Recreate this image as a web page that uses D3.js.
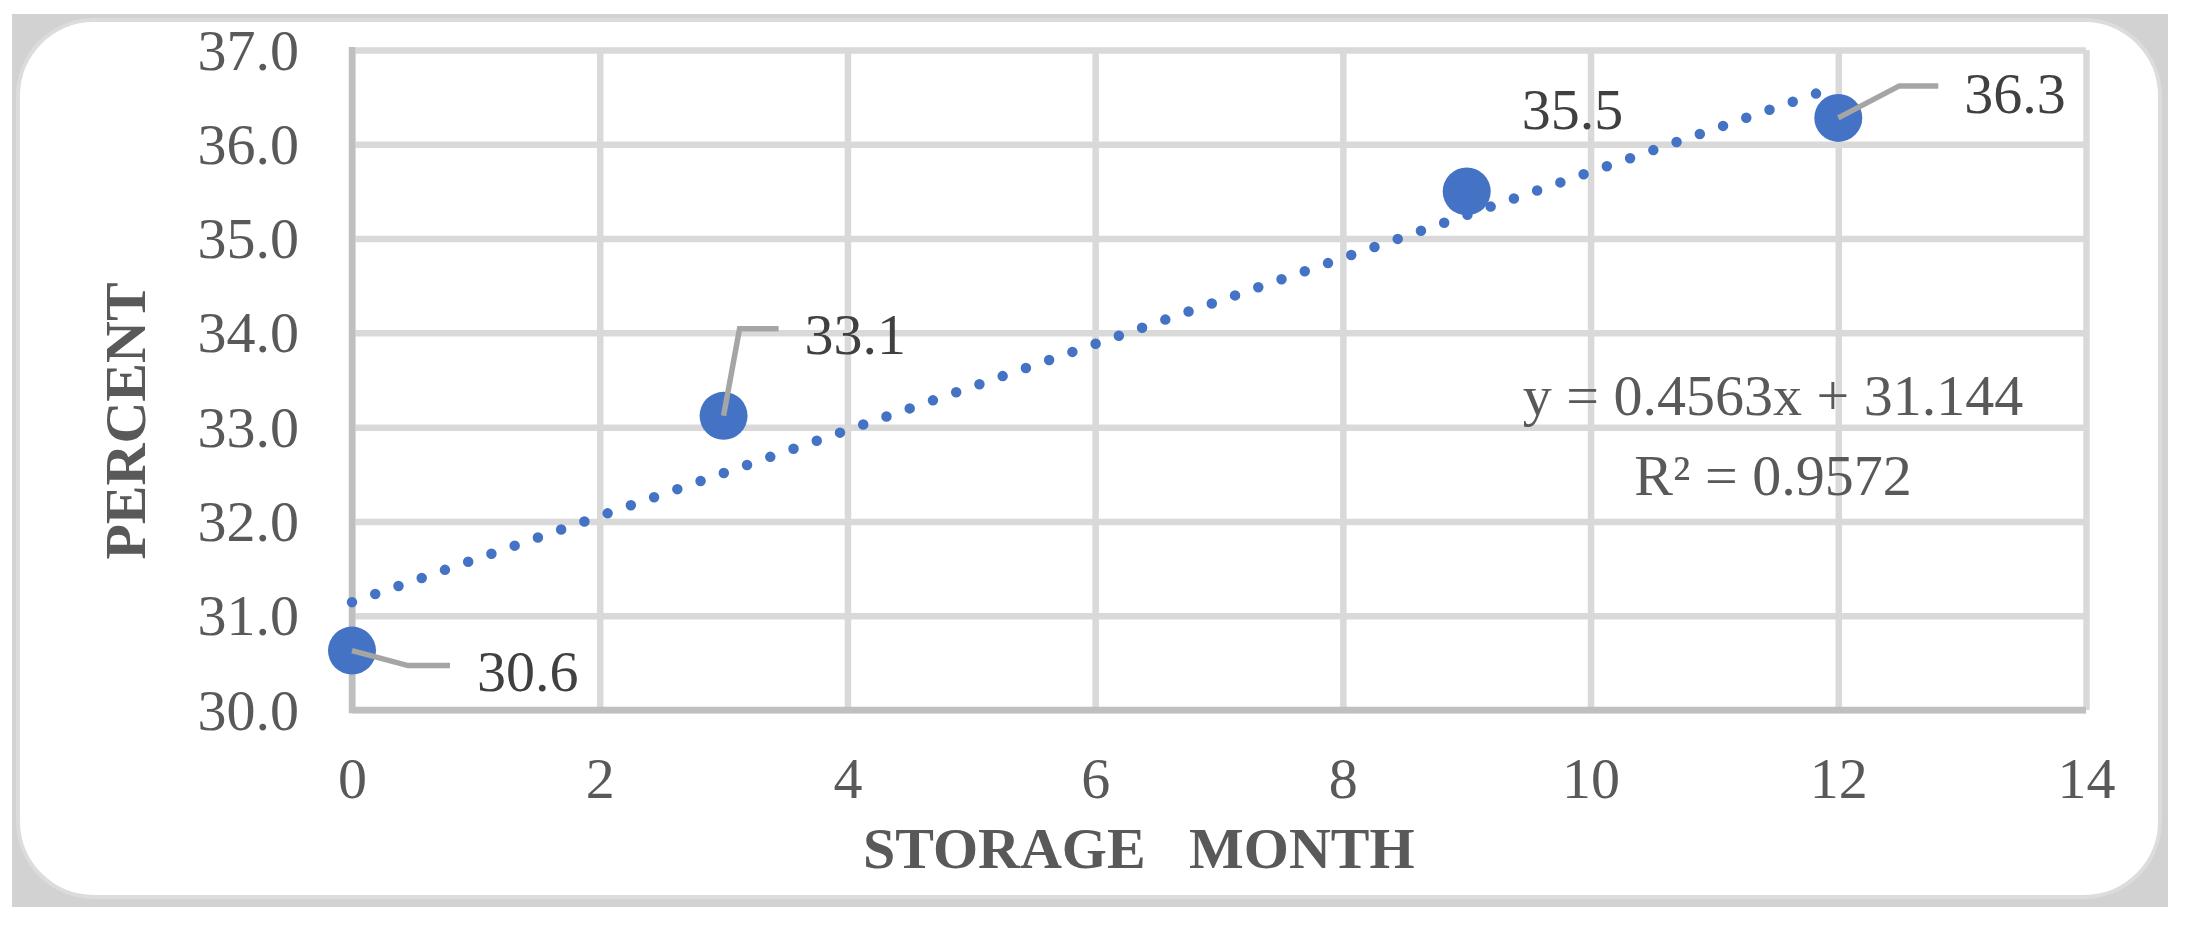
<!DOCTYPE html>
<html>
<head>
<meta charset="utf-8">
<script src="https://cdn.jsdelivr.net/npm/d3@7"></script>
<style>
  body { margin: 0; background: #fff; }
  text { font-family: "Liberation Serif", "Times New Roman", serif; }
</style>
</head>
<body>
<div id="chart"></div>
<script>
// data
var months   = [0, 3, 9, 12];
var percents = [30.63, 33.12, 35.50, 36.28];
var xTicks = [0, 2, 4, 6, 8, 10, 12, 14];
var yTicks = [30, 31, 32, 33, 34, 35, 36, 37];
var trendSlope = 0.4563, trendIntercept = 31.144, trendR2 = 0.9572;
var trendRange = [0, 12];

// label placement (px offsets from the marker): elbow, leader end, text
var labelPlace = [
  {elbow: [56, 15], end: [98, 15], text: [125, 40]},
  {elbow: [16, -87], end: [55, -87], text: [81, -62]},
  {elbow: null, end: null, text: [55, -62]},
  {elbow: [61, -32], end: [100, -32], text: [126, -5]}
];

var W = 2188, H = 934;
var margin = {top: 50, right: 102, bottom: 224, left: 352};
var width = W - margin.left - margin.right;
var height = H - margin.top - margin.bottom;

var svg = d3.select("#chart").append("svg")
    .attr("width", W)
    .attr("height", H);

// frame
svg.append("rect")
    .attr("x", 12).attr("y", 14)
    .attr("width", 2156).attr("height", 893)
    .attr("fill", "#d2d2d2");
svg.append("rect")
    .attr("x", 18).attr("y", 20)
    .attr("width", 2142).attr("height", 877)
    .attr("rx", 76).attr("ry", 76)
    .attr("fill", "#fff")
    .attr("stroke", "#dcdcdc")
    .attr("stroke-width", 4);

var x = d3.scaleLinear().domain([0, 14]).range([0, width]);
var y = d3.scaleLinear().domain([30, 37]).range([height, 0]);

var g = svg.append("g")
    .attr("transform", "translate(" + margin.left + "," + margin.top + ")");

// grid + tick labels
var xAxis = g.append("g")
    .attr("transform", "translate(0," + height + ")")
    .call(d3.axisBottom(x).tickValues(xTicks).tickFormat(d3.format("d"))
        .tickSizeInner(-height).tickSizeOuter(0).tickPadding(47));
var yAxis = g.append("g")
    .call(d3.axisLeft(y).tickValues(yTicks).tickFormat(d3.format(".1f"))
        .tickSizeInner(-width).tickSizeOuter(0).tickPadding(53));

[xAxis, yAxis].forEach(function(a) {
  a.select(".domain").remove();
  a.selectAll(".tick line").attr("stroke", "#d9d9d9").attr("stroke-width", 6.5);
  a.selectAll(".tick text")
      .attr("fill", "#595959")
      .style("font-size", "58px")
      .style("font-family", "Liberation Serif, serif");
});
yAxis.selectAll(".tick text").attr("dy", "0.33em");

// axis lines
g.append("line")
    .attr("x1", 0).attr("x2", 0)
    .attr("y1", -3).attr("y2", height + 3)
    .attr("stroke", "#bfbfbf").attr("stroke-width", 6.5);
g.append("line")
    .attr("x1", -3).attr("x2", width)
    .attr("y1", height).attr("y2", height)
    .attr("stroke", "#bfbfbf").attr("stroke-width", 6.5);

// trendline (dotted)
var line = d3.line()
    .x(function(d) { return x(d); })
    .y(function(d) { return y(trendIntercept + trendSlope * d); });
g.append("path")
    .attr("d", line(trendRange))
    .attr("fill", "none")
    .attr("stroke", "#4472c4")
    .attr("stroke-width", 10.5)
    .attr("stroke-linecap", "round")
    .attr("stroke-dasharray", "0 24.6");

var pts = months.map(function(m, i) { return {m: m, v: percents[i], p: labelPlace[i]}; });

// markers
g.selectAll(".dot").data(pts).enter().append("circle")
    .attr("class", "dot")
    .attr("cx", function(d) { return x(d.m); })
    .attr("cy", function(d) { return y(d.v); })
    .attr("r", 24)
    .attr("fill", "#4472c4");

// leader lines
g.selectAll(".leader").data(pts.filter(function(d) { return d.p.elbow; })).enter()
  .append("polyline")
    .attr("class", "leader")
    .attr("points", function(d) {
      var cx = x(d.m), cy = y(d.v);
      return [[cx, cy], [cx + d.p.elbow[0], cy + d.p.elbow[1]], [cx + d.p.end[0], cy + d.p.end[1]]]
        .map(function(p) { return p.join(","); }).join(" ");
    })
    .attr("fill", "none")
    .attr("stroke", "#a5a5a5")
    .attr("stroke-width", 5.5);

// data labels
g.selectAll(".lbl").data(pts).enter().append("text")
    .attr("class", "lbl")
    .attr("x", function(d) { return x(d.m) + d.p.text[0]; })
    .attr("y", function(d) { return y(d.v) + d.p.text[1]; })
    .attr("fill", "#404040")
    .style("font-size", "58px")
    .text(function(d) { return d.v.toFixed(1); });

// trend equation
var eq = g.append("text")
    .attr("text-anchor", "middle")
    .attr("fill", "#595959")
    .style("font-size", "58px");
eq.append("tspan")
    .attr("x", 1773 - margin.left).attr("y", 415 - margin.top)
    .text("y = " + trendSlope + "x + " + trendIntercept);
eq.append("tspan")
    .attr("x", 1773 - margin.left).attr("y", 495 - margin.top)
    .text("R² = " + trendR2);

// axis titles
svg.append("text")
    .attr("x", 863).attr("y", 868)
    .attr("fill", "#595959")
    .attr("font-weight", "bold")
    .style("font-size", "58px")
    .style("white-space", "pre")
    .text("STORAGE   MONTH");

svg.append("text")
    .attr("transform", "translate(145,421) rotate(-90)")
    .attr("text-anchor", "middle")
    .attr("fill", "#595959")
    .attr("font-weight", "bold")
    .style("font-size", "58px")
    .text("PERCENT");
</script>
</body>
</html>
